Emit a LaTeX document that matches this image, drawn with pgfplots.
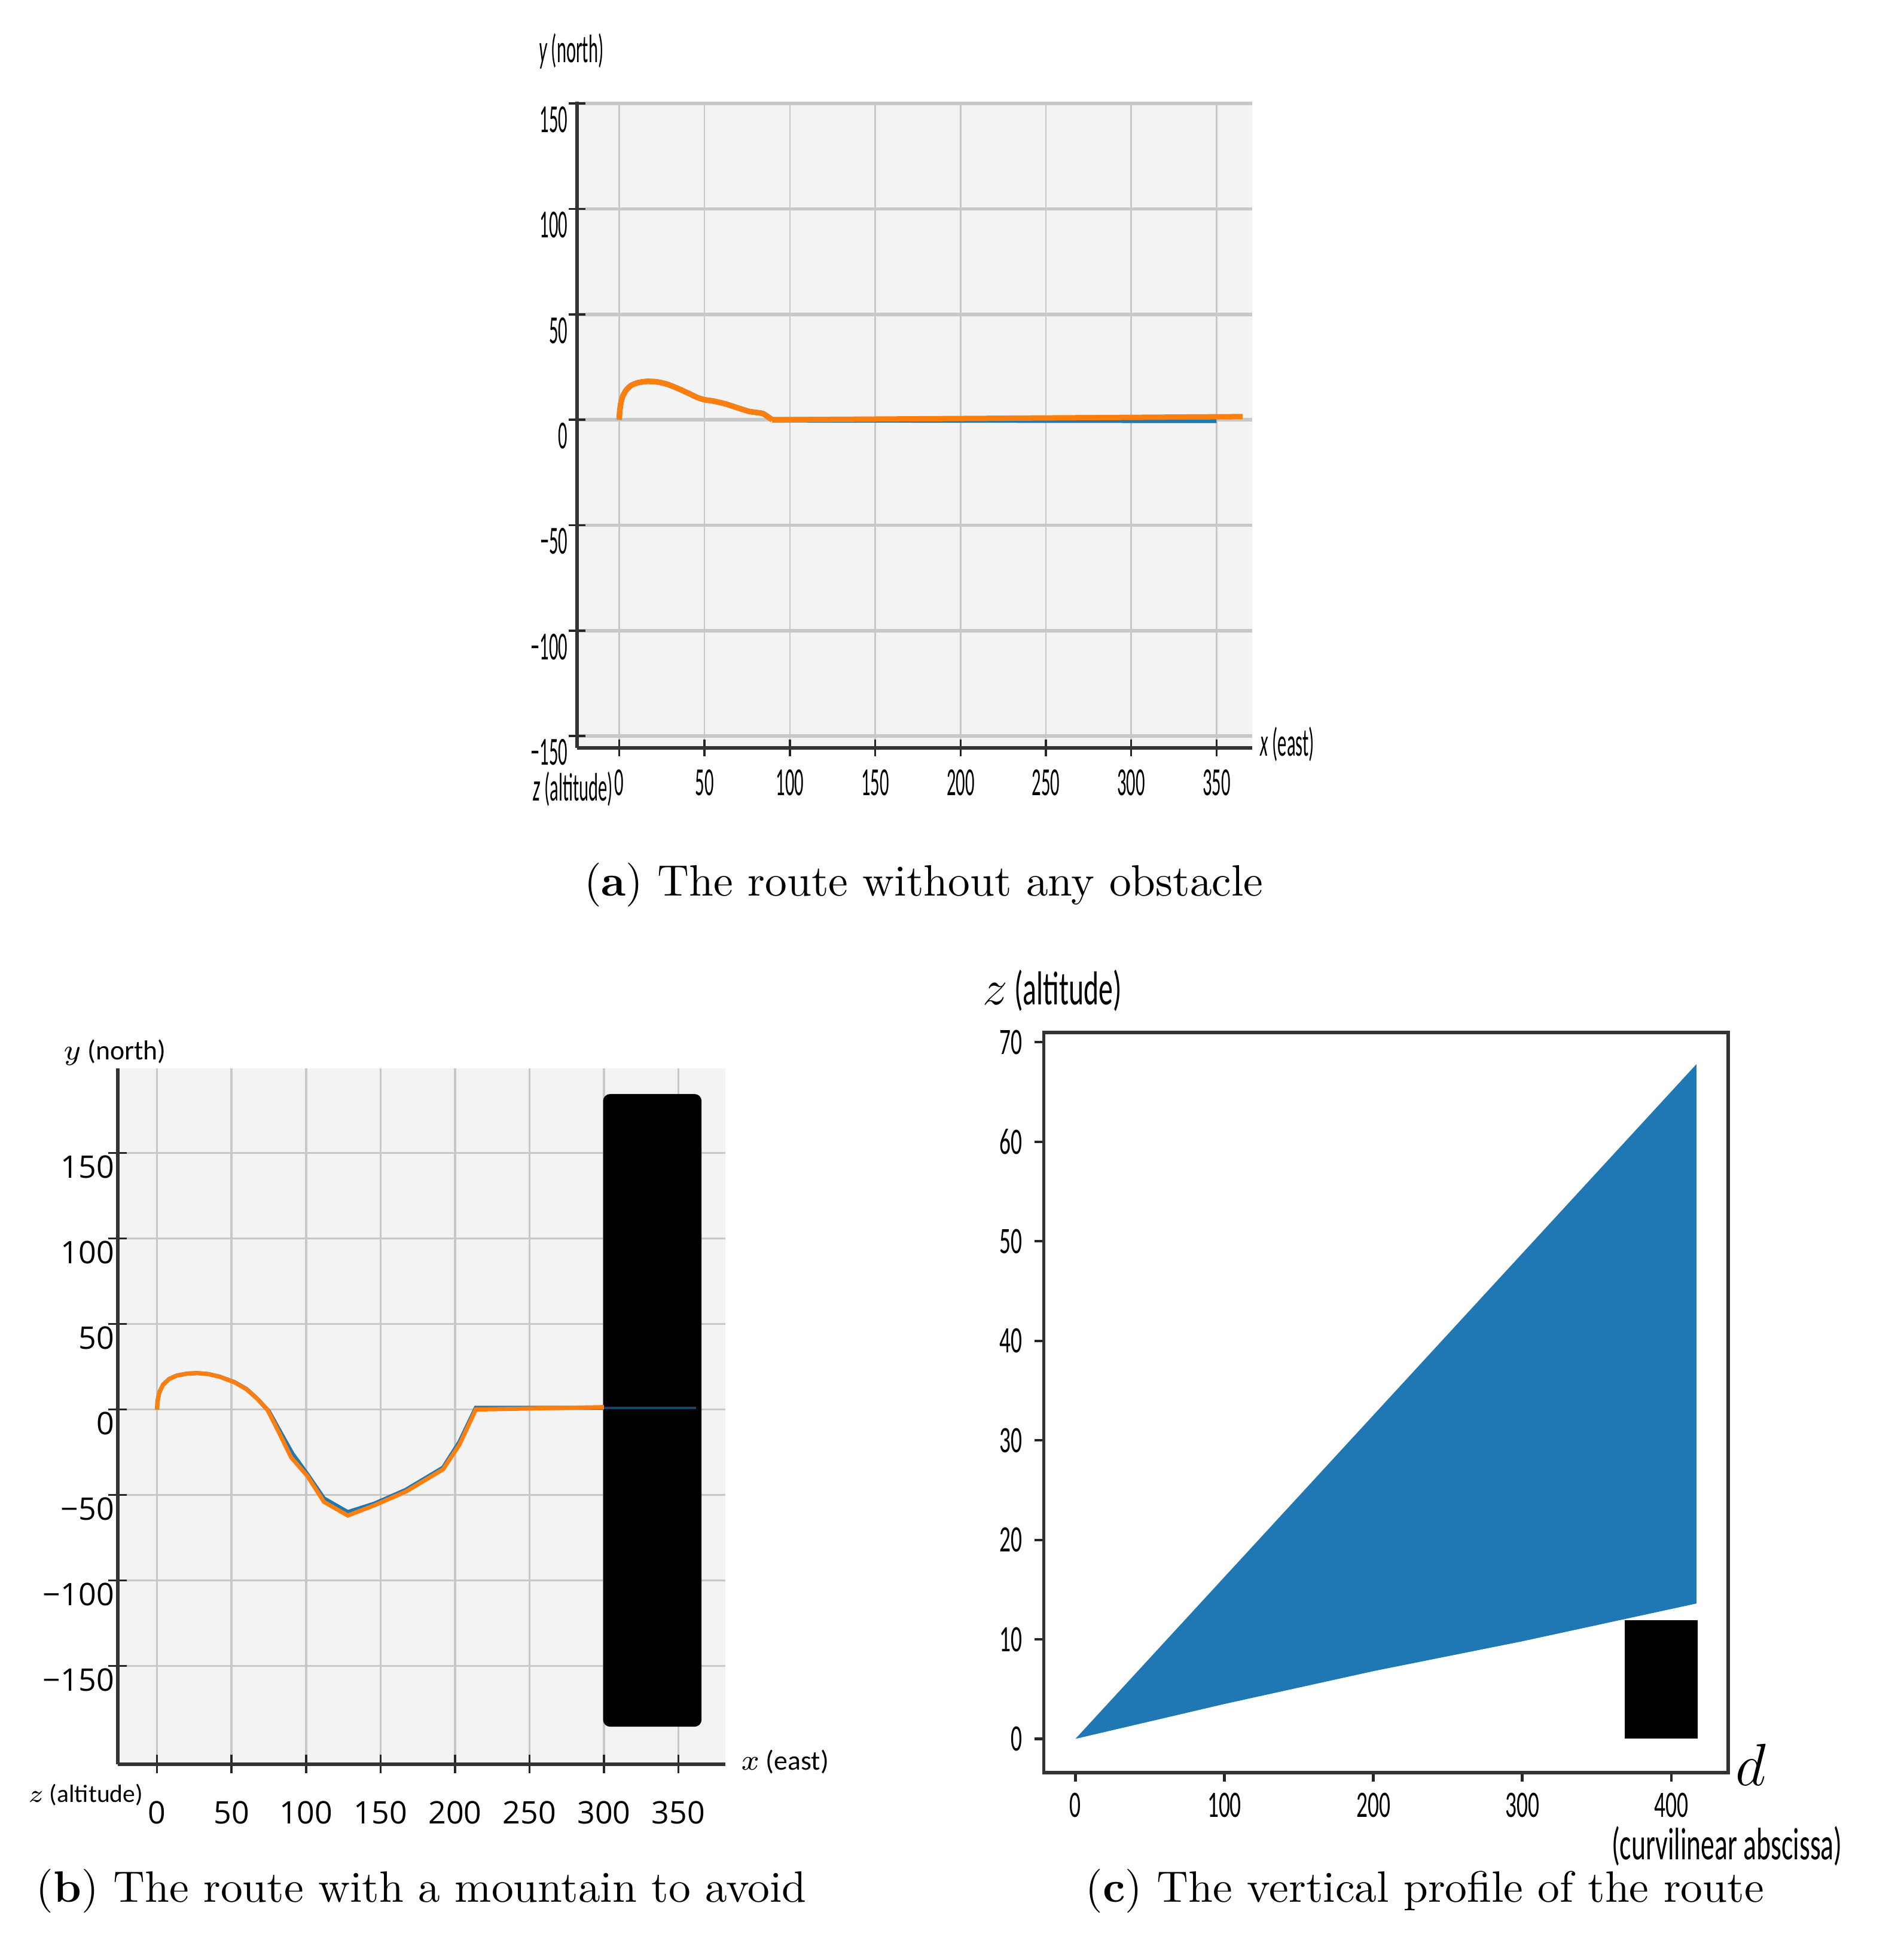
\documentclass[border=0pt]{standalone}
\usepackage{pgfplots}
\pgfplotsset{compat=1.18}
\usepackage{fontspec}
\newfontfamily\acond[FakeStretch=0.46]{Carlito}
\newfontfamily\ccond[FakeStretch=0.6]{Carlito}
\newfontfamily\bsans{Carlito}
\newfontfamily\osans{Open Sans}

\definecolor{cblue}{HTML}{1F77B4}
\definecolor{corange}{HTML}{FF7F0E}
\definecolor{pane}{HTML}{F3F3F3}
\definecolor{gridc}{HTML}{C8C8C8}

\begin{document}
\begin{tikzpicture}

% (a) route without obstacle
\begin{axis}[
    at={(139.2pt,-180.54pt)}, anchor=south west,
    scale only axis, width=163pt, height=156pt,
    xmin=-24.8, xmax=371, ymin=-155.7, ymax=150.9,
    axis x line=bottom, axis y line=left,
    axis line style={-, black!80, line width=0.9pt},
    axis background/.style={fill=pane},
    grid=major,
    x grid style={gridc, line width=0.35pt},
    y grid style={gridc, line width=0.8pt},
    xtick={0,50,100,150,200,250,300,350},
    xticklabels={0,50,100,150,200,250,300,350},
    ytick={-150,-100,-50,0,50,100,150},
    yticklabels={−150,−100,−50,0,50,100,150},
    tick align=center, major tick length=4pt,
    every tick/.style={black!85, line width=0.5pt},
    xticklabel style={font=\acond\fontsize{9.6}{9.6}\selectfont, anchor=center, inner sep=0pt, yshift=-6.4pt},
    yticklabel style={font=\acond\fontsize{9.6}{9.6}\selectfont, anchor=east, inner sep=0pt, xshift=0pt, yshift=-3.9pt},
]
\addplot[cblue, line width=1.3pt, smooth, tension=0.4] coordinates {
    (0,0) (0.3,4) (1,8) (2,11) (4,14) (7,16.3) (11,17.6) (16,18.2) (22,18) (28,16.9)
    (34,15) (40,12.8) (46,10.5) (50,9.5) (55,8.9) (62,7.6) (70,5.5) (76,4) (80,3.5)
    (84,3) (87,1.5) (89.6,0)
};
\addplot[cblue, line width=1.3pt] coordinates {(89.6,0) (350,-0.3)};
\addplot[corange, line width=1.3pt, smooth, tension=0.4] coordinates {
    (0,0) (0.3,4) (1,8) (2,11) (4,14) (7,16.3) (11,17.6) (16,18.2) (22,18) (28,16.9)
    (34,15) (40,12.8) (46,10.5) (50,9.5) (55,8.9) (62,7.6) (70,5.5) (76,4) (80,3.5)
    (84,3) (87,1.5) (89.6,0)
};
\addplot[corange, line width=1.3pt] coordinates {(89.6,0) (200,0.6) (365.3,1.5)};
\end{axis}

% (b) route with a mountain
\begin{axis}[
    at={(28.38pt,-425.79pt)}, anchor=south west,
    scale only axis, width=146.6pt, height=167.9pt,
    xmin=-26.5, xmax=381.4, ymin=-207.4, ymax=199.4,
    axis x line=bottom, axis y line=left,
    axis line style={-, black!80, line width=0.9pt},
    axis background/.style={fill=pane},
    grid=major,
    grid style={gridc, line width=0.5pt},
    xtick={0,50,100,150,200,250,300,350},
    xticklabels={0,50,100,150,200,250,300,350},
    ytick={-150,-100,-50,0,50,100,150},
    yticklabels={−150,−100,−50,0,50,100,150},
    tick align=center, major tick length=4.5pt,
    every tick/.style={black!85, line width=0.5pt},
    xticklabel style={font=\osans\fontsize{7.5}{7.5}\selectfont, anchor=center, inner sep=0pt, yshift=-9.4pt},
    yticklabel style={font=\osans\fontsize{7.5}{7.5}\selectfont, anchor=east, inner sep=0pt, xshift=1.6pt, yshift=-3.4pt},
]
\addplot[fill=black, draw=black, rounded corners=1.5pt] coordinates {
    (300,-185) (365,-185) (365,184) (300,184)
} -- cycle;
\addplot[cblue, line width=1pt] coordinates {
    (0,0) (0.3,5) (1.5,10) (4,14.5) (8,17.8) (13,19.8) (20,21) (27,21.3) (34,20.8)
    (42,19.2) (52,16) (60,12) (67,6.5) (75,-1)
    (82,-12) (91,-26) (101,-38) (112,-52) (128,-60) (146,-55) (167,-47) (192,-34)
    (203,-19) (214,1) (300,1)
};
\addplot[corange, line width=1pt] coordinates {
    (0,0) (0.3,5) (1.5,10) (4,14.5) (8,17.8) (13,19.8) (20,21) (27,21.3) (34,20.8)
    (42,19.2) (52,15.9) (60,11.8) (67,6.5) (74,0)
    (81,-12) (90,-28) (101,-39) (112,-54) (128,-62) (146,-56) (167,-48) (192,-35)
    (203,-20.6) (214,0) (300,1.4)
};
\addplot[cblue!60!black, line width=0.6pt] coordinates {(300,1) (362,1)};
\end{axis}

% (c) vertical profile
\begin{axis}[
    at={(251.85pt,-427.86pt)}, anchor=south west,
    scale only axis, width=165.15pt, height=178.7pt,
    xmin=-21.3, xmax=438.3, ymin=-3.41, ymax=71.0,
    axis line style={black!80, line width=0.8pt},
    xtick={0,100,200,300,400},
    xticklabels={0,100,200,300,400},
    ytick={0,10,20,30,40,50,60,70},
    yticklabels={0,10,20,30,40,50,60,70},
    xtick pos=left, ytick pos=left,
    tick align=outside, major tick length=2.2pt,
    every tick/.style={black!85, line width=0.6pt},
    xticklabel style={font=\ccond\fontsize{9}{9}\selectfont, anchor=center, inner sep=0pt, yshift=-5.6pt},
    yticklabel style={font=\ccond\fontsize{9}{9}\selectfont, anchor=east, inner sep=0pt, xshift=-2.8pt},
]
\addplot[fill=cblue, draw=none] coordinates {
    (0,0) (417,67.8) (417,13.6) (300,9.8) (200,6.8) (100,3.5) (0,0)
} -- cycle;
\addplot[fill=black, draw=none] coordinates {
    (369,0) (418,0) (418,11.9) (369,11.9)
} -- cycle;
\end{axis}

% axis titles, panel (a)
\node[anchor=base west, inner sep=0pt] at (129.84pt,-15.15pt)
    {\acond\fontsize{9.6}{9.6}\selectfont\itshape y\upshape\ (north)};
\node[anchor=base west, inner sep=0pt] at (303.9pt,-182.49pt)
    {\acond\fontsize{9.6}{9.6}\selectfont\itshape x\upshape\ (east)};
\node[anchor=base west, inner sep=0pt] at (128.4pt,-193.29pt)
    {\acond\fontsize{9.6}{9.6}\selectfont\itshape z\upshape\ (altitude)};

% axis titles, panel (b)
\node[anchor=base west, inner sep=0pt] at (15.15pt,-255.78pt)
    {\bsans\fontsize{6.6}{6.6}\selectfont $y$ (north)};
\node[anchor=base west, inner sep=0pt] at (178.59pt,-427.2pt)
    {\bsans\fontsize{6.6}{6.6}\selectfont $x$ (east)};
\node[anchor=base west, inner sep=0pt] at (6.6pt,-434.91pt)
    {\bsans\fontsize{6}{6}\selectfont $z$ (altitude)};

% axis titles, panel (c)
\node[anchor=west, inner sep=0pt] at (237pt,-239.1pt)
    {\ccond\fontsize{11.5}{11.5}\selectfont{\fontsize{12}{12}\selectfont$z$} (altitude)};
\node[inner sep=0pt] at (422.4pt,-426pt) {\fontsize{15}{15}\selectfont$d$};
\node[inner sep=0pt] at (416.7pt,-445.6pt)
    {\ccond\fontsize{11}{11}\selectfont (curvilinear abscissa)};

% captions
\node[inner sep=0pt] at (222.9pt,-213.6pt)
    {\fontsize{10.6}{12}\selectfont(\textbf{a}) The route without any obstacle};
\node[inner sep=0pt] at (101.7pt,-456.4pt)
    {\fontsize{10.6}{12}\selectfont(\textbf{b}) The route with a mountain to avoid};
\node[inner sep=0pt] at (343.8pt,-456.4pt)
    {\fontsize{10.6}{12}\selectfont(\textbf{c}) The vertical profile of the route};

\pgfresetboundingbox
\useasboundingbox (0,0) rectangle (459.3pt,-470.4pt);
\end{tikzpicture}
\end{document}
